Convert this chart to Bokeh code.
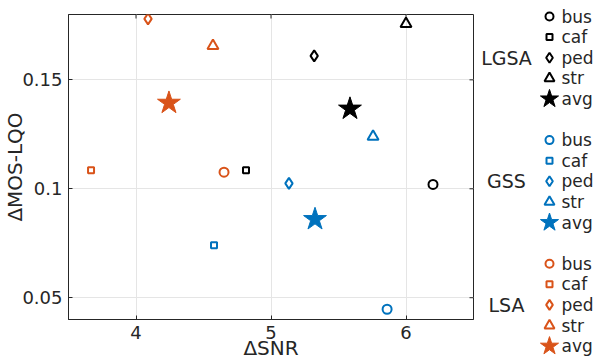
import numpy as np
from bokeh.plotting import figure
from bokeh.models import Range1d, FixedTicker
from bokeh.layouts import row
from bokeh.embed import file_html
from bokeh.resources import INLINE
from bokeh.core.properties import value

# ---------------- data ----------------
noise_types = ["bus", "caf", "ped", "str", "avg"]
methods = ["LGSA", "GSS", "LSA"]
method_colors = ["#000000", "#0072BD", "#D95319"]
markers = ["circle", "square", "diamond", "triangle", "star"]

snr_lgsa = [6.20, 4.815, 5.32, 6.00, 5.585]
mos_lgsa = [0.1020, 0.1085, 0.1610, 0.1757, 0.1367]
snr_gss = [5.86, 4.578, 5.133, 5.756, 5.326]
mos_gss = [0.0447, 0.0741, 0.1025, 0.1240, 0.0860]
snr_lsa = [4.652, 3.667, 4.089, 4.570, 4.244]
mos_lsa = [0.1076, 0.1085, 0.1780, 0.1656, 0.1394]

x_ticks = [4, 5, 6]
y_ticks = [0.05, 0.1, 0.15]
y_tick_labels = ["0.05", "0.1", "0.15"]

FONT = "DejaVu Sans"
series = [(snr_lgsa, mos_lgsa), (snr_gss, mos_gss), (snr_lsa, mos_lsa)]
plot_sizes = [9, 6, 11, 11, 24]
legend_sizes = [8, 6, 10, 10, 19]

X0, X1 = 3.5, 6.5
Y0, Y1 = 0.04, 0.18

# ---------------- main plot ----------------
p = figure(width=475, height=363, output_backend="svg", toolbar_location=None,
           x_range=Range1d(X0, X1), y_range=Range1d(Y0, Y1),
           min_border_left=68, min_border_top=14, min_border_bottom=44,
           min_border_right=2)
p.outline_line_color = "#262626"
p.outline_line_width = 1
p.background_fill_color = "white"
p.border_fill_color = "white"

p.xaxis.ticker = FixedTicker(ticks=x_ticks)
p.yaxis.ticker = FixedTicker(ticks=y_ticks)
p.yaxis.major_label_overrides = {t: l for t, l in zip(y_ticks, y_tick_labels)}
p.xaxis.axis_label = "ΔSNR"
p.yaxis.axis_label = "ΔMOS-LQO"
for ax in (p.xaxis[0], p.yaxis[0]):
    ax.axis_label_text_font = FONT
    ax.axis_label_text_font_size = "20px"
    ax.axis_label_text_font_style = "normal"
    ax.axis_label_text_color = "#262626"
    ax.major_label_text_font = FONT
    ax.major_label_text_font_size = "18px"
    ax.major_label_text_color = "#262626"
    ax.major_tick_in = 4
    ax.major_tick_out = 0
    ax.minor_tick_line_color = None
    ax.axis_line_color = "#262626"
    ax.major_tick_line_color = "#262626"
p.xaxis.major_label_standoff = 6
p.xaxis.axis_label_standoff = -6
p.yaxis.major_label_standoff = 6
p.yaxis.axis_label_standoff = -8

p.xgrid.ticker = FixedTicker(ticks=x_ticks)
p.ygrid.ticker = FixedTicker(ticks=y_ticks)
p.grid.grid_line_color = "#e5e5e5"
p.grid.grid_line_width = 1

# inward ticks on the right and top edges of the box
p.ray(x=[X1] * len(y_ticks), y=y_ticks, length=4, length_units="screen",
      angle=np.pi, line_color="#262626", line_width=1)
p.ray(x=x_ticks, y=[Y1] * len(x_ticks), length=4, length_units="screen",
      angle=-np.pi / 2, line_color="#262626", line_width=1)

for (xs, ys), col in zip(series, method_colors):
    for k, mk in enumerate(markers):
        if mk == "star":
            p.scatter([xs[k]], [ys[k]], marker=mk, size=plot_sizes[k],
                      fill_color=col, line_color=col, line_width=1)
        else:
            p.scatter([xs[k]], [ys[k]], marker=mk, size=plot_sizes[k],
                      fill_color=None, line_color=col, line_width=2)

# ---------------- legend panel ----------------
LEG_LEFT = 475
LEG_RIGHT = 596
lg = figure(width=LEG_RIGHT - LEG_LEFT, height=363, output_backend="svg",
            toolbar_location=None,
            x_range=Range1d(LEG_LEFT, LEG_RIGHT), y_range=Range1d(16.844, -0.777),
            x_axis_location=None, y_axis_location=None,
            min_border=0, min_border_left=0, min_border_right=0,
            min_border_top=0, min_border_bottom=0)
lg.frame_align = False
lg.outline_line_color = None
lg.border_fill_color = "white"
lg.grid.visible = False

MARK_X = 549
TEXT_X = 561
GROUP_X = 506
for g, (meth, col) in enumerate(zip(methods, method_colors)):
    rows = [6 * g + k for k in range(len(noise_types))]
    for k, mk in enumerate(markers):
        if mk == "star":
            lg.scatter([MARK_X], [rows[k]], marker=mk, size=legend_sizes[k],
                       fill_color=col, line_color=col, line_width=1)
        else:
            lg.scatter([MARK_X], [rows[k]], marker=mk, size=legend_sizes[k],
                       fill_color=None, line_color=col, line_width=2)
    lg.text(x=[TEXT_X] * len(rows), y=rows, text=noise_types,
            text_font=value(FONT), text_font_size="17px", text_color="#262626",
            text_baseline="middle", text_align="left")
    lg.text(x=[GROUP_X], y=[rows[2]], text=[meth],
            text_font=value(FONT), text_font_size="19px", text_color="#262626",
            text_baseline="middle", text_align="center")

layout = row(p, lg, spacing=0)
open("out.html", "w").write(file_html(layout, INLINE))
